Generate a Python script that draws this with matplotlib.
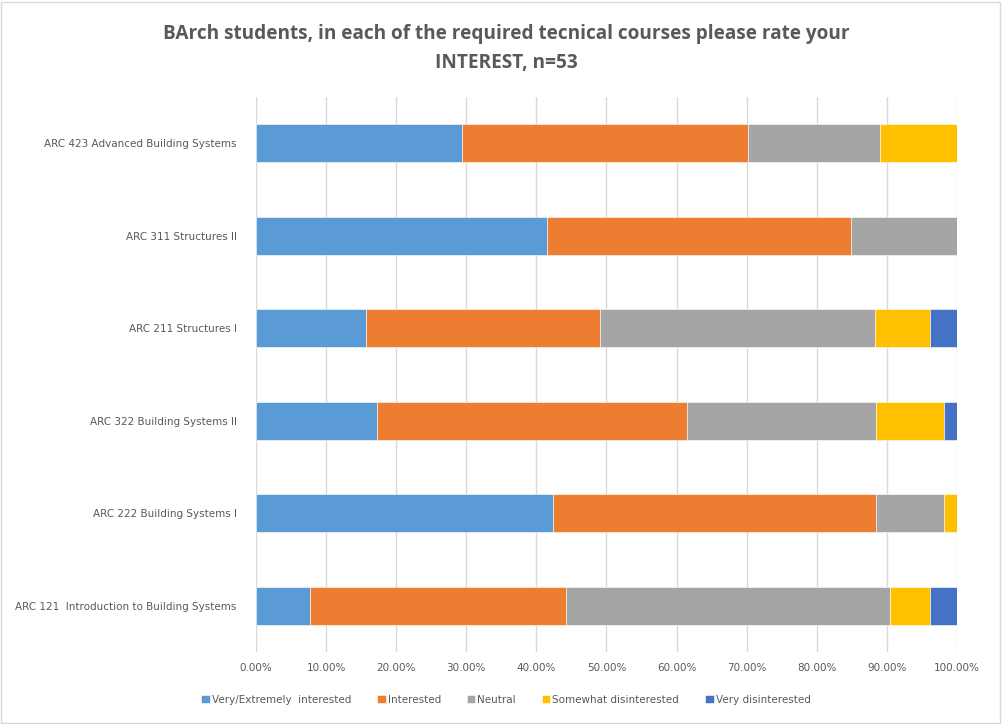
import matplotlib
matplotlib.use("Agg")
import matplotlib.pyplot as plt
from matplotlib.patches import Rectangle
from matplotlib.ticker import FuncFormatter

courses = [
    "ARC 121  Introduction to Building Systems",
    "ARC 222 Building Systems I",
    "ARC 322 Building Systems II",
    "ARC 211 Structures I",
    "ARC 311 Structures II",
    "ARC 423 Advanced Building Systems",
]
series = [
    "Very/Extremely  interested",
    "Interested",
    "Neutral",
    "Somewhat disinterested",
    "Very disinterested",
]
# share of respondents (%) per course, in order of `courses`
very_interested = [7.69, 42.31, 17.31, 15.69, 41.51, 29.4]
interested = [36.54, 46.15, 44.23, 33.33, 43.40, 40.8]
neutral = [46.15, 9.62, 26.92, 39.22, 15.09, 18.8]
somewhat_dis = [5.77, 1.92, 9.62, 7.84, 0.0, 11.0]
very_dis = [3.85, 0.0, 1.92, 3.92, 0.0, 0.0]

colors = ["#5B9BD5", "#ED7D31", "#A5A5A5", "#FFC000", "#4472C4"]
text_color = "#595959"

fig = plt.figure(figsize=(10.02, 7.24), dpi=100)
ax = fig.add_axes([256 / 1002, 1 - 652 / 724, 701 / 1002, 555 / 724])

ypos = list(range(len(courses)))
left = [0.0] * len(courses)
for name, vals, c in zip(series, [very_interested, interested, neutral, somewhat_dis, very_dis], colors):
    ax.barh(ypos, vals, left=left, height=0.41, color=c, label=name,
            edgecolor="white", linewidth=0.4)
    left = [a + b for a, b in zip(left, vals)]

ax.set_xlim(0, 100)
ax.set_ylim(-0.5, len(courses) - 0.5)
ax.set_xticks(range(0, 101, 10))
ax.xaxis.set_major_formatter(FuncFormatter(lambda v, p: f"{v:.2f}%"))
ax.set_yticks(ypos)
ax.set_yticklabels(courses)
ax.tick_params(axis="both", length=0, labelsize=7.5, colors=text_color)
ax.tick_params(axis="y", pad=14)
ax.tick_params(axis="x", pad=8)
ax.grid(axis="x", color="#D9D9D9", linewidth=1)
ax.set_axisbelow(True)
for s in ax.spines.values():
    s.set_visible(False)

fig.text(0.505, 1 - 34 / 724, "BArch students, in each of the required tecnical courses please rate your",
         ha="center", va="center", fontsize=13.7, fontweight="bold", color=text_color,
         family="Open Sans")
fig.text(0.505, 1 - 63 / 724, "INTEREST, n=53",
         ha="center", va="center", fontsize=13.7, fontweight="bold", color=text_color,
         family="Open Sans")

handles, labels = ax.get_legend_handles_labels()
fig.legend(handles, labels, loc="center", bbox_to_anchor=(0.505, 1 - 700 / 724), ncol=5,
           frameon=False, fontsize=7.5, labelcolor=text_color, handlelength=0.8,
           handleheight=0.8, handletextpad=0.2, columnspacing=2.5)

fig.patches.append(Rectangle((1 / 1002, 1 / 724), 1 - 3 / 1002, 1 - 3 / 724,
                             transform=fig.transFigure, fill=False,
                             edgecolor="#D9D9D9", linewidth=1))

fig.savefig("out.png", dpi=100, facecolor="white")
